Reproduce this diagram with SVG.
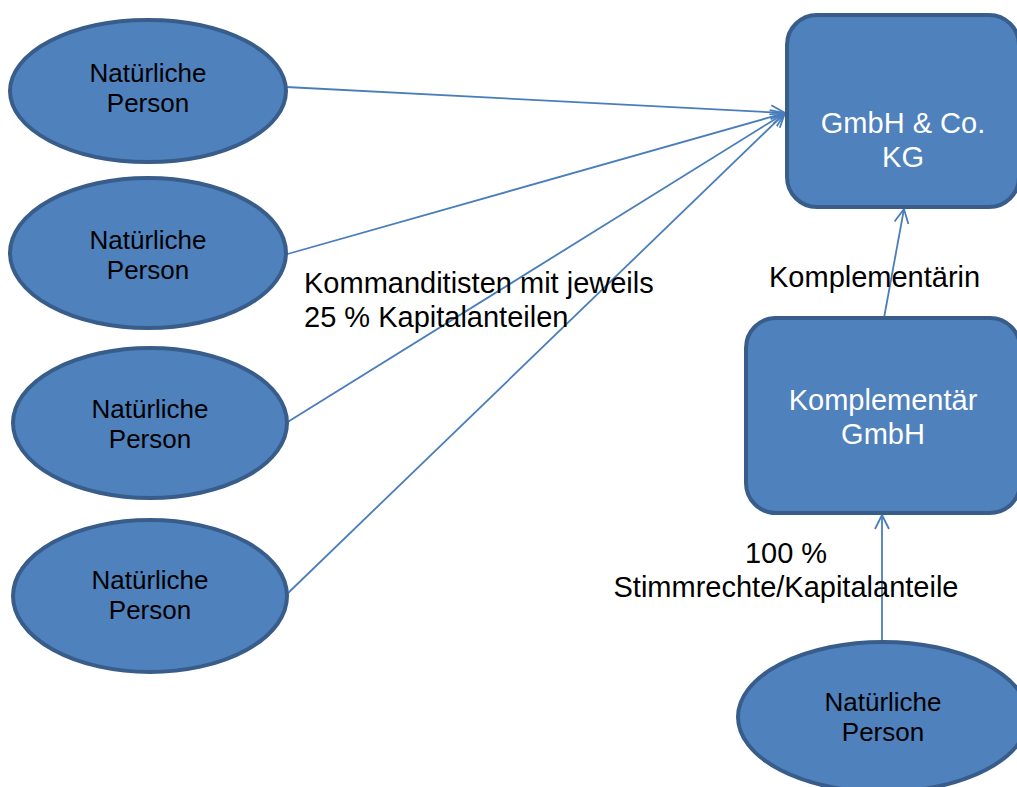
<svg xmlns="http://www.w3.org/2000/svg" width="1017" height="787" viewBox="0 0 1017 787">
<defs>
<style>
.node{fill:#4f81bd;stroke:#385d8a;stroke-width:4}
.ntxt{font-family:"Liberation Sans",Arial,sans-serif;font-size:26px;fill:#000;text-anchor:middle}
.btxt{font-family:"Liberation Sans",Arial,sans-serif;font-size:29px;fill:#fff;text-anchor:middle}
.lbl{font-family:"Liberation Sans",Arial,sans-serif;font-size:29px;fill:#000}
.edge{stroke:#4a7ebb;stroke-width:1.8;fill:none}
</style>
<marker id="arr" markerUnits="userSpaceOnUse" markerWidth="18" markerHeight="18" refX="15" refY="8" orient="auto">
<path d="M1,1 L15,8 L1,15" fill="none" stroke="#4a7ebb" stroke-width="1.8"/>
</marker>
</defs>
<rect width="1017" height="787" fill="#fff"/>
<g id="connectors">
<line class="edge" x1="286" y1="87" x2="785" y2="113" marker-end="url(#arr)"/>
<line class="edge" x1="284" y1="255" x2="785" y2="113" marker-end="url(#arr)"/>
<line class="edge" x1="286" y1="423" x2="785" y2="113" marker-end="url(#arr)"/>
<line class="edge" x1="286" y1="595" x2="785" y2="113" marker-end="url(#arr)"/>
<line class="edge" x1="884" y1="318" x2="904" y2="209" marker-end="url(#arr)"/>
<line class="edge" x1="882" y1="642" x2="882" y2="515" marker-end="url(#arr)"/>
</g>
<g id="p1">
<ellipse class="node" cx="148" cy="91" rx="138" ry="71"/>
<text class="ntxt" x="148" y="82">Natürliche</text>
<text class="ntxt" x="148" y="112">Person</text>
</g>
<g id="p2">
<ellipse class="node" cx="148" cy="253" rx="138" ry="75"/>
<text class="ntxt" x="148" y="249">Natürliche</text>
<text class="ntxt" x="148" y="279">Person</text>
</g>
<g id="p3">
<ellipse class="node" cx="150" cy="423" rx="137" ry="75"/>
<text class="ntxt" x="150" y="418">Natürliche</text>
<text class="ntxt" x="150" y="448">Person</text>
</g>
<g id="p4">
<ellipse class="node" cx="150" cy="596" rx="137" ry="76"/>
<text class="ntxt" x="150" y="589">Natürliche</text>
<text class="ntxt" x="150" y="619">Person</text>
</g>
<g id="p5">
<ellipse class="node" cx="883" cy="717" rx="145" ry="75"/>
<text class="ntxt" x="883" y="711">Natürliche</text>
<text class="ntxt" x="883" y="741">Person</text>
</g>
<g id="kg">
<rect class="node" x="787" y="15" width="232" height="192" rx="30" ry="30"/>
<text class="btxt" x="903" y="133">GmbH &amp; Co.</text>
<text class="btxt" x="903" y="167">KG</text>
</g>
<g id="komp">
<rect class="node" x="746" y="318" width="274" height="195" rx="30" ry="30"/>
<text class="btxt" x="883" y="410">Komplementär</text>
<text class="btxt" x="883" y="444">GmbH</text>
</g>
<g id="labels">
<text class="lbl" x="304" y="293">Kommanditisten mit jeweils</text>
<text class="lbl" x="304" y="327">25 % Kapitalanteilen</text>
<text class="lbl" x="769" y="287">Komplementärin</text>
<text class="lbl" x="786" y="563" text-anchor="middle">100 %</text>
<text class="lbl" x="786" y="597" text-anchor="middle">Stimmrechte/Kapitalanteile</text>
</g>
</svg>
